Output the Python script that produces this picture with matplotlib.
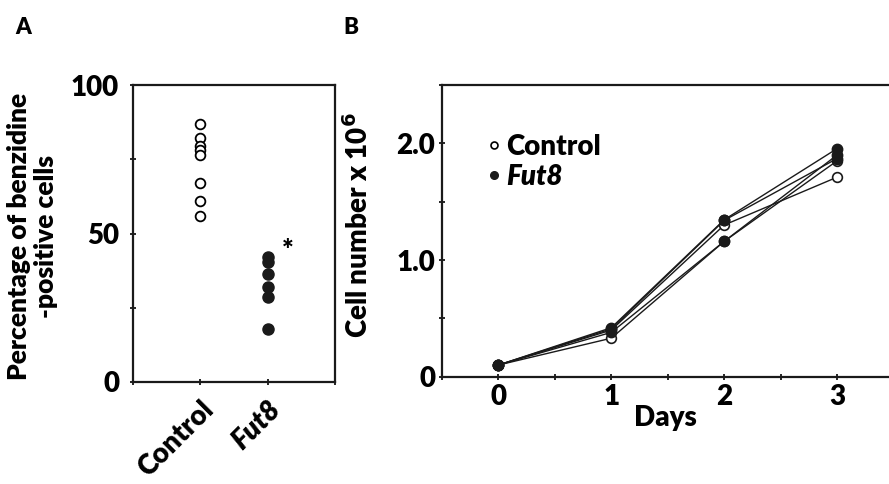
import matplotlib
matplotlib.use("Agg")
import matplotlib.pyplot as plt

plt.rcParams['font.family'] = ['Lato', 'DejaVu Sans']
plt.rcParams['font.weight'] = 'heavy'
plt.rcParams['axes.labelweight'] = 'heavy'
plt.rcParams['mathtext.default'] = 'bf'

# panel A: percentage of benzidine-positive cells
groups = ["Control", "Fut8"]
control_pct = [87, 82, 79.5, 78, 76.5, 67, 61, 56]
fut8_pct = [42, 40.5, 36.5, 32, 28.5, 18]

# panel B: growth curves (cell number x 10^6)
days = [0, 1, 2, 3]
control_growth = [
    [0.1, 0.40, 1.30, 1.71],
    [0.1, 0.33, 1.16, 1.85],
]
fut8_growth = [
    [0.1, 0.42, 1.345, 1.955],
    [0.1, 0.38, 1.16, 1.90],
    [0.1, 0.41, 1.34, 1.87],
]

W, H = 889, 484
fig = plt.figure(figsize=(W / 100, H / 100), dpi=100)

# ---------- A ----------
ax1 = fig.add_axes([133 / W, 1 - 382 / H, (335 - 133) / W, (382 - 85) / H])
ax1.plot([1] * len(control_pct), control_pct, 'o', ms=7, mfc='white',
         mec='black', mew=1.3, ls='none')
ax1.plot([2] * len(fut8_pct), fut8_pct, 'o', ms=8, mfc='#1a1a1a',
         mec='#1a1a1a', ls='none')
ax1.text(2.3, 44, '*', fontsize=20, ha='center', va='center', fontweight='heavy')
ax1.set_xlim(0, 3)
ax1.set_ylim(0, 100)
ax1.set_xticks([0, 1, 2, 3])
ax1.set_xticklabels(['', groups[0], groups[1], ''], rotation=45, ha='right',
                    va='top', rotation_mode='anchor', fontsize=20,
                    fontweight='heavy')
ax1.get_xticklabels()[2].set_style('italic')
ax1.set_yticks([0, 25, 50, 75, 100])
ax1.set_yticklabels(['0', '', '50', '', '100'], fontsize=20, fontweight='heavy')
ax1.tick_params(direction='inout', length=4, width=1.2, pad=8)
ax1.set_ylabel('Percentage of benzidine\n-positive cells', fontsize=19,
               linespacing=1.15)
ax1.yaxis.set_label_coords(-0.37, 0.49)
for s in ax1.spines.values():
    s.set_linewidth(1.6)
    s.set_color('#1a1a1a')

# ---------- B ----------
ax2 = fig.add_axes([442 / W, 1 - 376.7 / H, (W - 442) / W, (376.7 - 85) / H])
for g in control_growth:
    ax2.plot(days, g, '-o', color='#1a1a1a', lw=1.0, ms=7, mfc='white',
             mec='#1a1a1a', mew=1.2)
for g in fut8_growth:
    ax2.plot(days, g, '-o', color='#1a1a1a', lw=1.0, ms=7.5, mfc='#1a1a1a',
             mec='#1a1a1a')
ax2.set_xlim(-0.5, 3.46)
ax2.set_ylim(0, 2.5)
ax2.set_xticks([-0.5, 0, 0.5, 1, 1.5, 2, 2.5, 3])
ax2.set_xticklabels(['', '0', '', '1', '', '2', '', '3'], fontsize=20,
                    fontweight='heavy')
ax2.set_yticks([0, 0.5, 1.0, 1.5, 2.0, 2.5])
ax2.set_yticklabels(['0', '', '1.0', '', '2.0', ''], fontsize=20,
                    fontweight='heavy')
ax2.tick_params(direction='inout', length=4, width=1.2, pad=3)
ax2.set_xlabel('Days', fontsize=20, labelpad=-3)
ax2.set_ylabel('Cell number x 10$^{6}$', fontsize=20)
ax2.yaxis.set_label_coords(-0.155, 0.52)
ax2.spines['right'].set_visible(False)
for s in ax2.spines.values():
    s.set_linewidth(1.6)
    s.set_color('#1a1a1a')

h1, = ax2.plot([], [], 'o', ms=5, mfc='white', mec='black', mew=1.2)
h2, = ax2.plot([], [], 'o', ms=5.5, mfc='#1a1a1a', mec='#1a1a1a')
leg = ax2.legend([h1, h2], groups, loc='upper left', frameon=False,
                 prop={'size': 20, 'weight': 'heavy'},
                 handlelength=0.4, handletextpad=0.25,
                 labelspacing=0.15, borderaxespad=0.3,
                 bbox_to_anchor=(0.06, 0.9))
leg.get_texts()[1].set_style('italic')

fig.text(15 / W, 1 - 28 / H, 'A', fontsize=16, va='center', fontweight='heavy')
fig.text(343 / W, 1 - 28 / H, 'B', fontsize=16, va='center', fontweight='heavy')

fig.savefig('out.png', dpi=100)
